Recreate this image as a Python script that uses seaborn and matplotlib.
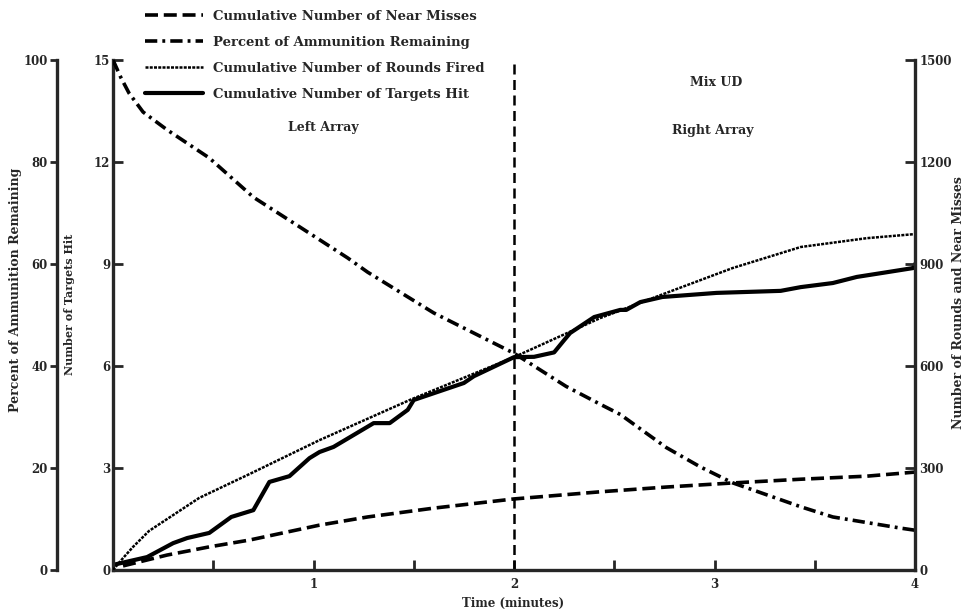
import matplotlib
matplotlib.use("Agg")
import matplotlib.pyplot as plt
import seaborn as sns

# Cumulative number of targets hit (left inner axis)
hit_time = [0.0, 0.17, 0.30, 0.37, 0.48, 0.59, 0.70, 0.78, 0.88, 0.98, 1.03, 1.10,
            1.30, 1.38, 1.47, 1.50, 1.60, 1.75, 1.80, 2.00, 2.10, 2.20, 2.25, 2.28,
            2.40, 2.53, 2.56, 2.63, 2.74, 3.01, 3.33, 3.43, 3.59, 3.71, 3.84, 3.99, 4.00]
targets_hit = [0.15, 0.38, 0.79, 0.94, 1.09, 1.56, 1.76, 2.59, 2.76, 3.29, 3.47, 3.62,
               4.32, 4.32, 4.71, 5.00, 5.20, 5.50, 5.70, 6.26, 6.27, 6.40, 6.76, 6.97,
               7.44, 7.65, 7.65, 7.88, 8.03, 8.15, 8.21, 8.32, 8.44, 8.62, 8.74, 8.88, 9.00]

# Percent of ammunition remaining (left outer axis)
pct_time = [0.0, 0.04, 0.08, 0.15, 0.27, 0.48, 0.70, 0.93, 1.17, 1.27, 1.60, 2.00, 2.26,
            2.43, 2.53, 2.76, 2.93, 3.09, 3.43, 3.59, 3.93, 4.00]
pct_remaining = [100, 96.5, 93.5, 89.8, 86.3, 80.8, 73.1, 67.3, 61.2, 58.4, 50.4, 42.5, 36.0,
                 32.5, 30.5, 24.0, 20.2, 17.1, 12.4, 10.4, 8.2, 7.8]

# Cumulative rounds fired and near misses (right axis)
rounds_time = [0.0, 0.05, 0.10, 0.18, 0.43, 0.68, 1.03, 1.48, 2.00, 2.43, 2.76, 3.09, 3.43, 3.76, 4.00]
rounds_fired = [0, 35, 68, 115, 212, 282, 382, 500, 626, 741, 815, 888, 950, 976, 988]

miss_time = [0.05, 0.27, 0.48, 0.68, 1.03, 1.27, 1.60, 2.00, 2.43, 2.76, 3.09, 3.43, 3.76, 4.00]
near_misses = [12, 44, 68, 88, 132, 156, 182, 209, 230, 244, 256, 267, 276, 288]

pct_ticks = [0, 20, 40, 60, 80, 100]
hit_ticks = [0, 3, 6, 9, 12, 15]
round_ticks = [0, 300, 600, 900, 1200, 1500]
time_ticks = [1, 2, 3, 4]
time_minor = [0.5, 1.5, 2.5, 3.5]

labels = ["Cumulative Number of Near Misses",
          "Percent of Ammunition Remaining",
          "Cumulative Number of Rounds Fired",
          "Cumulative Number of Targets Hit"]

sns.set_style("ticks")
plt.rcParams["font.family"] = ["DejaVu Serif"]
plt.rcParams["font.weight"] = "bold"
plt.rcParams["axes.linewidth"] = 2.4

fig = plt.figure(figsize=(9.72, 6.15), dpi=100)
ax = fig.add_axes([113 / 972, 45 / 615, 802 / 972, 510 / 615])
ax_pct = ax.twinx()
ax_rnd = ax.twinx()

ink = "black"
l_miss = sns.lineplot(x=miss_time, y=near_misses, ax=ax_rnd, color=ink, lw=2.6,
                      linestyle=(0, (3.6, 1.6)), legend=False).get_lines()[-1]
l_rnd = sns.lineplot(x=rounds_time, y=rounds_fired, ax=ax_rnd, color=ink, lw=1.8,
                     linestyle=(0, (1.2, 0.5)), legend=False).get_lines()[-1]
l_pct = sns.lineplot(x=pct_time, y=pct_remaining, ax=ax_pct, color=ink, lw=2.6,
                     linestyle=(0, (3.4, 1.4, 0.8, 1.4)), legend=False).get_lines()[-1]
l_hit = sns.lineplot(x=hit_time, y=targets_hit, ax=ax, color=ink, lw=3.0,
                     legend=False).get_lines()[-1]

ax.axvline(2, color=ink, lw=1.8, linestyle=(0, (4, 2.2)))

ax.set_xlim(0, 4)
ax.set_ylim(0, 15)
ax_pct.set_ylim(0, 100)
ax_rnd.set_ylim(0, 1500)

for a in (ax, ax_pct, ax_rnd):
    a.spines["top"].set_visible(False)
    a.set_xlabel("")
    a.set_ylabel("")
ax.spines["right"].set_visible(False)
for s in ("bottom", "right"):
    ax_pct.spines[s].set_visible(False)
for s in ("bottom", "left"):
    ax_rnd.spines[s].set_visible(False)

# outer percent axis sits 56 px (40 pt) to the left of the targets axis
ax_pct.spines["left"].set_visible(True)
ax_pct.spines["left"].set_position(("outward", 40))
ax_pct.yaxis.set_ticks_position("left")
ax_pct.yaxis.set_label_position("left")

tick_font = dict(fontsize=8.5, fontweight="bold")
ax.set_xticks(time_ticks)
ax.set_xticklabels([str(v) for v in time_ticks], **tick_font)
ax.set_xticks(time_minor, minor=True)
ax.tick_params(axis="x", which="both", direction="in", length=7, width=2, pad=6)

ax.set_yticks(hit_ticks)
ax.set_yticklabels([str(v) for v in hit_ticks], **tick_font)
ax.tick_params(axis="y", direction="in", length=7, width=2, pad=2)

ax_pct.set_yticks(pct_ticks)
ax_pct.set_yticklabels([str(v) for v in pct_ticks], **tick_font)
ax_pct.tick_params(axis="y", direction="out", length=5, width=2, pad=2)

ax_rnd.set_yticks(round_ticks)
ax_rnd.set_yticklabels([str(v) for v in round_ticks], **tick_font)
ax_rnd.tick_params(axis="y", direction="in", length=7, width=2, pad=3)

lab_font = dict(fontweight="bold")
ax_pct.set_ylabel("Percent of Ammunition Remaining", fontsize=9, **lab_font)
ax_pct.yaxis.set_label_coords(-0.113, 0.55)
ax.set_ylabel("Number of Targets Hit", fontsize=8, **lab_font)
ax.yaxis.set_label_coords(-0.047, 0.52)
ax_rnd.set_ylabel("Number of Rounds and Near Misses", fontsize=9, **lab_font)
ax_rnd.yaxis.set_label_coords(1.046, 0.525)
ax.set_xlabel("Time (minutes)", fontsize=8.5, **lab_font)
ax.xaxis.set_label_coords(0.499, -0.052)

ax.text(1.05, 13.0, "Left Array", ha="center", va="center", fontsize=9, fontweight="bold")
ax.text(3.01, 14.35, "Mix UD", ha="center", va="center", fontsize=9, fontweight="bold")
ax.text(2.99, 12.94, "Right Array", ha="center", va="center", fontsize=9, fontweight="bold")

fig.legend([l_miss, l_pct, l_rnd, l_hit], labels, loc="upper left",
           bbox_to_anchor=(145 / 972, 1 - 10 / 615), frameon=False,
           borderpad=0, borderaxespad=0, handlelength=4.4, handletextpad=0.75,
           labelspacing=0.98, prop=dict(size=9.5, weight="bold"))

fig.savefig("out.png", dpi=100)
